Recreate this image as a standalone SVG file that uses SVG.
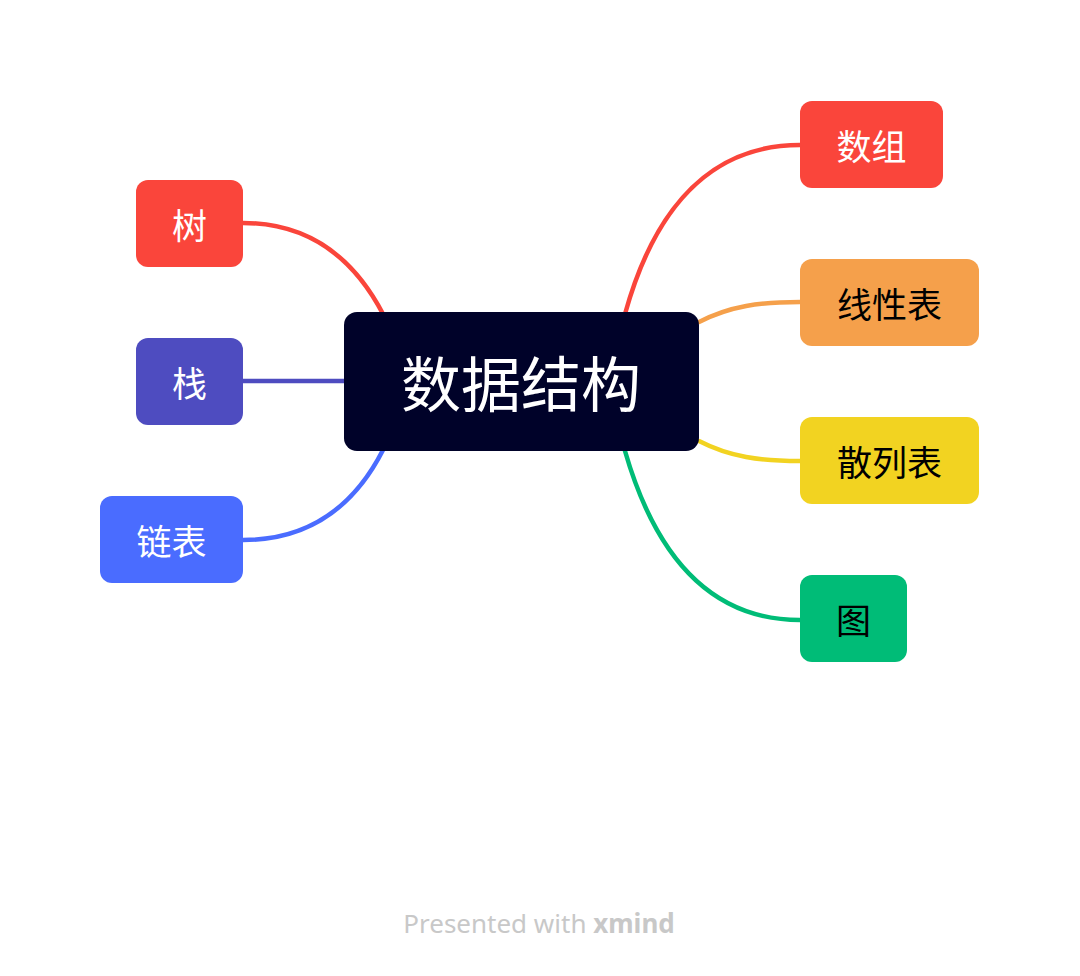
<svg xmlns="http://www.w3.org/2000/svg" width="1080" height="976" viewBox="0 0 1080 976">
<style>
.t{font-family:"Noto Sans CJK SC","Noto Sans",sans-serif;text-anchor:middle}
.w{fill:#fff}
.k{fill:#000}
.c{fill:none;stroke-width:4.5;stroke-linecap:round}
</style>
<rect width="1080" height="976" fill="#fff"/>
<g id="connectors">
<path class="c" stroke="#FA453B" d="M625,314 C640,260 680,145 800,145"/>
<path class="c" stroke="#F5A04B" d="M699,322 C730,306 760,302 800,302"/>
<path class="c" stroke="#F2D321" d="M699,441 C730,457 760,461 800,461"/>
<path class="c" stroke="#00BC77" d="M625,451 C640,503 680,620 800,620"/>
<path class="c" stroke="#FA453B" d="M243,223 C320,223 360,270 383,314"/>
<path class="c" stroke="#4E4CC0" d="M243,381 L344,381"/>
<path class="c" stroke="#4A6CFF" d="M243,540 C320,540 360,495 383,450"/>
</g>
<g id="center">
<rect x="344" y="312" width="355" height="139" rx="13" fill="#000229"/>
<text class="t w" x="521" y="407" font-size="60">数据结构</text>
</g>
<g id="n-shuzu">
<rect x="800" y="101" width="143" height="87" rx="12" fill="#FA453B"/>
<text class="t w" x="871.5" y="160" font-size="35">数组</text>
</g>
<g id="n-xianxingbiao">
<rect x="800" y="259" width="179" height="87" rx="12" fill="#F5A04B"/>
<text class="t k" x="889.5" y="318" font-size="35">线性表</text>
</g>
<g id="n-sanliebiao">
<rect x="800" y="417" width="179" height="87" rx="12" fill="#F2D321"/>
<text class="t k" x="889.5" y="476" font-size="35">散列表</text>
</g>
<g id="n-tu">
<rect x="800" y="575" width="107" height="87" rx="12" fill="#00BC77"/>
<text class="t k" x="853.5" y="634" font-size="35">图</text>
</g>
<g id="n-shu">
<rect x="136" y="180" width="107" height="87" rx="12" fill="#FA453B"/>
<text class="t w" x="189.5" y="239" font-size="35">树</text>
</g>
<g id="n-zhan">
<rect x="136" y="338" width="107" height="87" rx="12" fill="#4E4CC0"/>
<text class="t w" x="189.5" y="397" font-size="35">栈</text>
</g>
<g id="n-lianbiao">
<rect x="100" y="496" width="143" height="87" rx="12" fill="#4A6CFF"/>
<text class="t w" x="171.5" y="555" font-size="35">链表</text>
</g>
<text x="539" y="933" font-family="'Noto Sans','Open Sans',sans-serif" font-size="26" fill="#C8C8C8" text-anchor="middle">Presented with <tspan font-weight="bold">xmind</tspan></text>
</svg>
